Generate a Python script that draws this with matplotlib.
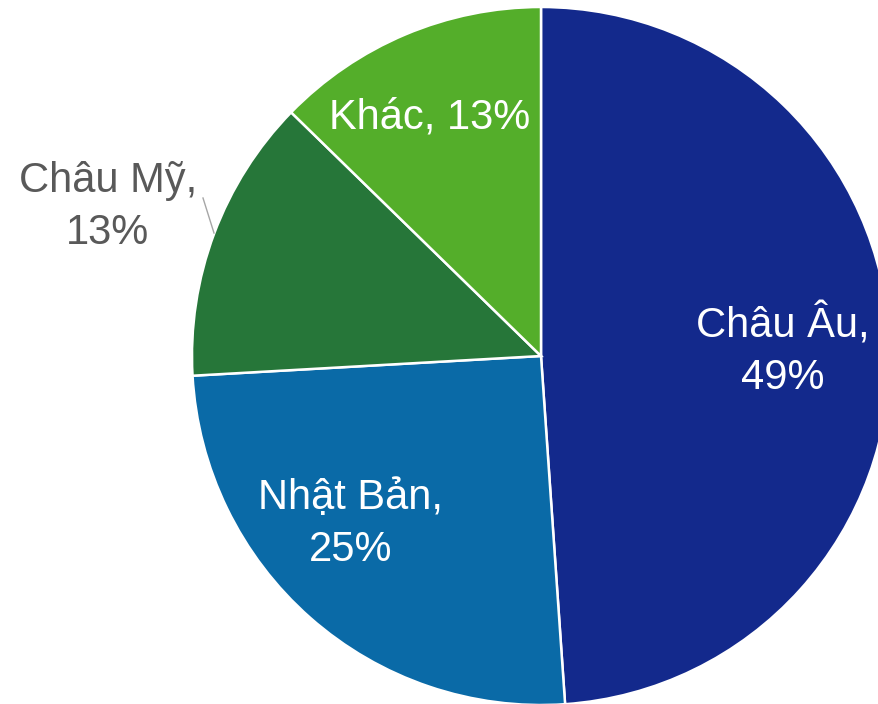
import matplotlib.pyplot as plt

labels = ["Châu Âu", "Nhật Bản", "Châu Mỹ", "Khác"]
shares = [48.9, 25.2, 13.2, 12.7]
pct_labels = ["49%", "25%", "13%", "13%"]
colors = ["#13298C", "#0A6AA7", "#267639", "#54AE2A"]

plt.rcParams["font.family"] = ["Liberation Sans", "DejaVu Sans"]

W, H = 879, 704
fig = plt.figure(figsize=(W / 100, H / 100), dpi=100)
ax = fig.add_axes([0, 0, 1, 1])
ax.axis("off")

ax.pie(shares, colors=colors, startangle=90, counterclock=False,
       center=(541, H - 356), radius=349,
       wedgeprops=dict(edgecolor="white", linewidth=1.8))
ax.set_xlim(0, W)
ax.set_ylim(0, H)
ax.set_aspect("equal")

# label placement (pixel coords measured from top)
pos = {
    "Châu Âu": (783, 351),
    "Nhật Bản": (351, 524),
    "Khác": (430, 118),
    "Châu Mỹ": (108, 207),
}
for lab, pct in zip(labels, pct_labels):
    x, y = pos[lab]
    if lab == "Khác":
        txt = f"{lab}, {pct}"
    else:
        txt = f"{lab},\n{pct}"
    col = "#595959" if lab == "Châu Mỹ" else "white"
    ax.text(x, H - y, txt, ha="center", va="center", fontsize=30,
            color=col, linespacing=1.38)

ax.plot([203, 214], [H - 198, H - 233], color="#A6A6A6", linewidth=1)

fig.savefig("out.png", dpi=100, facecolor="white")
